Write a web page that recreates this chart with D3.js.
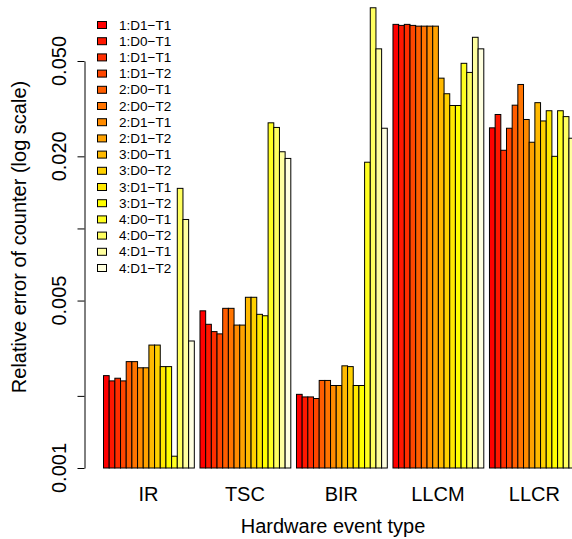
<!DOCTYPE html>
<html><head><meta charset="utf-8">
<script src="https://cdn.jsdelivr.net/npm/d3@7"></script>
<style>body{margin:0;background:#fff}svg{display:block;font-family:"Liberation Sans",Arial,Helvetica,sans-serif}</style>
</head><body><svg id="c" width="572" height="539"></svg>
<script>
const groups = ["IR","TSC","BIR","LLCM","LLCR"];
const series = ["1:D1\u2212T1","1:D0\u2212T1","1:D1\u2212T1","1:D1\u2212T2","2:D0\u2212T1","2:D0\u2212T2","2:D1\u2212T1","2:D1\u2212T2",
  "3:D0\u2212T1","3:D0\u2212T2","3:D1\u2212T1","3:D1\u2212T2","4:D0\u2212T1","4:D0\u2212T2","4:D1\u2212T1","4:D1\u2212T2"];
const IR   = [0.00243,0.00231,0.00237,0.00231,0.00278,0.00278,0.00262,0.00262,0.00326,0.00326,0.00265,0.00265,0.00112,0.0147,0.0109,0.00339];
const TSC  = [0.00453,0.00398,0.00371,0.00363,0.00464,0.00464,0.00395,0.00395,0.00516,0.00516,0.00438,0.00432,0.0276,0.0264,0.0209,0.0196];
const BIR  = [0.00203,0.00198,0.00198,0.00195,0.00232,0.00232,0.00221,0.00221,0.00267,0.00265,0.00221,0.00221,0.0189,0.0834,0.0562,0.0262];
const LLCM = [0.0711,0.0704,0.0711,0.0704,0.0699,0.0699,0.0699,0.0699,0.0424,0.0365,0.0326,0.0326,0.0489,0.0448,0.0628,0.0562];
const LLCR = [0.0263,0.0299,0.0212,0.0262,0.0327,0.0399,0.0285,0.0229,0.0335,0.0281,0.0310,0.0200,0.0310,0.0293,0.0238,0.0250];
const values = [IR,TSC,BIR,LLCM,LLCR];
const yTicks = [0.001,0.002,0.005,0.01,0.02,0.05];
const yTickLabels = ["0.001","","0.005","","0.020","0.050"];
const colors = ["#FF0000","#FF1700","#FF2E00","#FF4600","#FF5D00","#FF7400","#FF8B00","#FFA200",
  "#FFB900","#FFD100","#FFE800","#FFFF00","#FFFF20","#FFFF60","#FFFF9F","#FFFFDF"];

const svg = d3.select("#c");
const u = 5.676;
const x0 = d3.scaleBand().domain(groups).range([103, 103 + 84*u]).paddingInner(1/17).paddingOuter(0);
const x1 = d3.scaleBand().domain(d3.range(series.length)).range([0, x0.bandwidth()]);
const y = d3.scaleLog().domain([0.001, 0.05]).range([468, 61]);
const color = d3.scaleOrdinal().domain(d3.range(series.length)).range(colors);

// bars
const g = svg.append("g");
groups.forEach((grp, gi) => {
  g.selectAll(null).data(values[gi]).enter().append("rect")
    .attr("x", (d,i) => x0(grp) + x1(i) + 0.5)
    .attr("y", d => y(d))
    .attr("width", x1.bandwidth())
    .attr("height", d => y(0.001) - y(d))
    .attr("fill", (d,i) => color(i))
    .attr("stroke", "#000").attr("stroke-width", 1);
});

// y axis
const ax = svg.append("g").attr("transform","translate(84.5,0)")
  .call(d3.axisLeft(y).tickValues(yTicks).tickSize(7).tickSizeOuter(0).tickFormat(""));
ax.select(".domain").attr("stroke","#000");
ax.selectAll(".tick line").attr("stroke","#000");
svg.append("g").selectAll("text").data(yTicks).enter().append("text")
  .attr("transform", d => `translate(66,${y(d)}) rotate(-90)`)
  .attr("text-anchor","middle").attr("font-size",20).attr("fill","#000")
  .text((d,i) => yTickLabels[i]);

// group labels
svg.append("g").selectAll("text").data(groups).enter().append("text")
  .attr("x", d => x0(d) + x0.bandwidth()/2).attr("y", 501)
  .attr("text-anchor","middle").attr("font-size",20).text(d => d);

// titles
svg.append("text").attr("x",333).attr("y",533).attr("text-anchor","middle")
  .attr("font-size",20).text("Hardware event type");
svg.append("text").attr("transform","translate(26,237) rotate(-90)")
  .attr("text-anchor","middle").attr("font-size",20).text("Relative error of counter (log scale)");

// legend
const lg = svg.append("g");
series.forEach((s,i) => {
  const cy = 25 + 16.2*i;
  lg.append("rect").attr("x",97.5).attr("y",cy-3.5).attr("width",9).attr("height",7)
    .attr("fill",colors[i]).attr("stroke","#000").attr("stroke-width",1);
  lg.append("text").attr("x",119).attr("y",cy).attr("dominant-baseline","central")
    .attr("font-size",13.5).text(s);
});
</script></body></html>
